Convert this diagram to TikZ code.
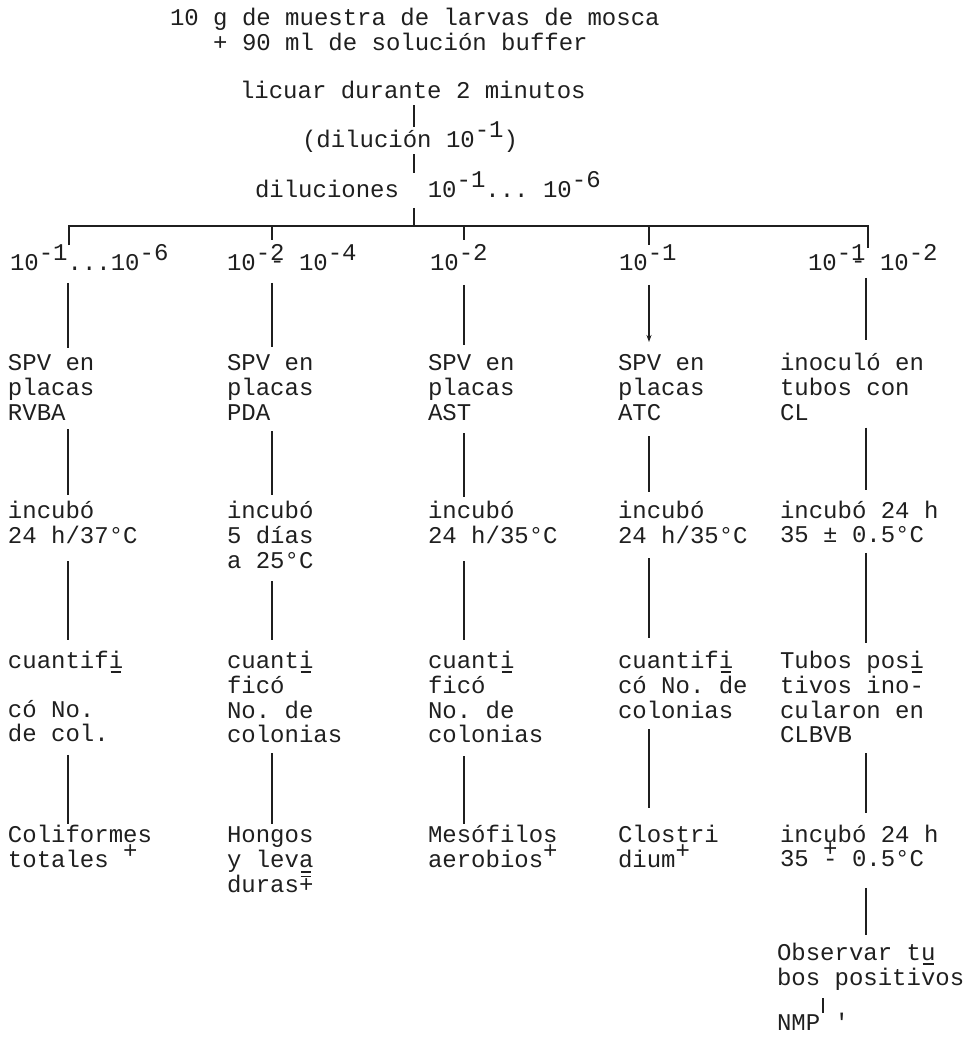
\documentclass[tikz,border=0pt]{standalone}
\usepackage{fontspec}
\setmonofont{Liberation Mono}
\usetikzlibrary{arrows.meta}

% typewriter-style marks
\newcommand\up[1]{\smash{\raisebox{0.4em}{#1}}}
\newcommand\ulc[1]{\makebox[0pt][l]{\hspace{0.08em}\rule[-0.2em]{0.44em}{0.06em}}#1}
\newcommand\subdash[1]{\makebox[0pt][l]{\raisebox{0.05em}{-}}\up{#1}}
\newcommand\barplus{\makebox[0pt][l]{\hspace{0.08em}\smash{\rule[0.62em]{0.44em}{0.06em}}}+}
\newcommand\pmup{\makebox[0pt][l]{\up{+}}-}
% a stack of typed lines whose baseline is that of its first line
\newcommand\lines[2][8em]{\parbox[t]{#1}{\raggedright\strut#2\strut}}

\begin{document}
\begin{tikzpicture}[x=1pt,y=-1pt,line width=1.1pt,color=black!88,
  txt/.style={anchor=base west,inner sep=0pt,outer sep=0pt,
    font=\ttfamily\fontsize{24pt}{24.5pt}\selectfont,
    execute at end node=\strut},
  tip/.style={-{Stealth[length=7pt,width=5pt]}}]

\useasboundingbox (0,0) rectangle (970,1037);

% column axes
\coordinate (x1) at (68,0);
\coordinate (x2) at (272,0);
\coordinate (x3) at (464,0);
\coordinate (x4) at (649,0);
\coordinate (x5) at (866,0);
\coordinate (xm) at (414,0);
\coordinate (xn) at (823,0);
\coordinate (barL) at (69,226);
\coordinate (barR) at (868,226);

% preparation
\node[txt] (sample) at (170,25) {\lines[21em]{10 g de muestra de larvas de mosca\\\hphantom{000}+ 90 ml de solución buffer}};
\node[txt] (blend) at (240,98) {licuar durante 2 minutos};
\node[txt] (dil) at (302,147) {(dilución 10\up{-1})};
\node[txt] (dils) at (255,197) {diluciones\ \ 10\up{-1}...\ 10\up{-6}};

% dilutions taken
\node[txt] (lab1) at (10,270) {10\up{-1}...10\up{-6}};
\node[txt] (lab2) at (227,270) {10\up{-}\subdash{2}\ 10\up{-4}};
\node[txt] (lab3) at (430,270) {10\up{-2}};
\node[txt] (lab4) at (619,270) {10\up{-1}};
\node[txt] (lab5) at (808,270) {10\up{-}\subdash{1}\ 10\up{-2}};

% seeding
\node[txt] (spv1) at (8,370) {\lines{SPV en\\placas\\RVBA}};
\node[txt] (spv2) at (227,370) {\lines{SPV en\\placas\\PDA}};
\node[txt] (spv3) at (428,370) {\lines{SPV en\\placas\\AST}};
\node[txt] (spv4) at (618,370) {\lines{SPV en\\placas\\ATC}};
\node[txt] (ino5) at (780,370) {\lines{inoculó en\\tubos con\\CL}};

% incubation
\node[txt] (inc1) at (8,518) {\lines{incubó\\24 h/37°C}};
\node[txt] (inc2) at (227,518) {\lines{incubó\\5 días\\a 25°C}};
\node[txt] (inc3) at (428,518) {\lines{incubó\\24 h/35°C}};
\node[txt] (inc4) at (618,518) {\lines{incubó\\24 h/35°C}};
\node[txt] (inc5) at (780,518) {\lines{incubó 24 h\\35 ± 0.5°C}};

% counting
\node[txt] (cua1) at (8,668) {\lines{cuantif\ulc{i}\\\mbox{}\\có No.\\de col.}};
\node[txt] (cua2) at (227,668) {\lines{cuant\ulc{i}\\ficó\\No. de\\colonias}};
\node[txt] (cua3) at (428,668) {\lines{cuant\ulc{i}\\ficó\\No. de\\colonias}};
\node[txt] (cua4) at (618,668) {\lines{cuantif\ulc{i}\\có No. de\\colonias}};
\node[txt] (tub5) at (780,668) {\lines{Tubos pos\ulc{i}\\tivos ino-\\cularon en\\CLBVB}};

% results
\node[txt] (res1) at (8,842) {\lines{Coliformes\\totales \up{+}}};
\node[txt] (res2) at (227,842) {\lines{Hongos\\y lev\ulc{a}\\duras\barplus}};
\node[txt] (res3) at (428,842) {\lines{Mesófilos\\aerobios\up{+}}};
\node[txt] (res4) at (618,842) {\lines{Clostri\\dium\up{+}}};
\node[txt] (inc5b) at (780,842) {\lines{incubó 24 h\\35 \pmup{} 0.5°C}};
\node[txt] (obs5) at (777,960) {\lines{Observar t\ulc{u}\\bos positivos}};
\node[txt] (nmp) at (777,1030) {NMP '};

% trunk
\draw[shorten >=20pt] (blend.south -| xm) -- (dil.base -| xm);
\draw[shorten >=24pt] (dil.south -| xm) -- (dils.base -| xm);
\draw[shorten <=3.6pt] (dils.south -| xm) -- (xm |- barL);
\draw[shorten <=25pt,shorten >=22pt] (lab1.base -| barL) -- (barL) -- (barR) -- (lab5.base -| barR);
\draw[shorten >=30pt] (x2 |- barL) -- (lab2.base -| x2);
\draw[shorten >=30pt] (x3 |- barL) -- (lab3.base -| x3);
\draw[shorten >=25pt] (x4 |- barL) -- (lab4.base -| x4);

% column 1
\draw[shorten <=5.6pt,shorten >=22pt] (lab1.south -| x1) -- (spv1.base -| x1);
\draw[shorten <=1.6pt,shorten >=23pt] (spv1.south -| x1) -- (inc1.base -| x1);
\draw[shorten <=10pt,shorten >=28pt] (inc1.south -| x1) -- (cua1.base -| x1);
\draw[shorten <=6pt,shorten >=18pt] (cua1.south -| x1) -- (res1.base -| x1);

% column 2
\draw[shorten <=5.6pt,shorten >=23pt] (lab2.south -| x2) -- (spv2.base -| x2);
\draw[shorten <=3.6pt,shorten >=23pt] (spv2.south -| x2) -- (inc2.base -| x2);
\draw[shorten <=5.6pt,shorten >=28pt] (inc2.south -| x2) -- (cua2.base -| x2);
\draw[shorten <=3pt,shorten >=18pt] (cua2.south -| x2) -- (res2.base -| x2);

% column 3
\draw[shorten <=7.6pt,shorten >=25pt] (lab3.south -| x3) -- (spv3.base -| x3);
\draw[shorten <=5.6pt,shorten >=21pt] (spv3.south -| x3) -- (inc3.base -| x3);
\draw[shorten <=10pt,shorten >=28pt] (inc3.south -| x3) -- (cua3.base -| x3);
\draw[shorten <=6pt,shorten >=18pt] (cua3.south -| x3) -- (res3.base -| x3);

% column 4
\draw[tip,shorten <=7.6pt,shorten >=28pt] (lab4.south -| x4) -- (spv4.base -| x4);
\draw[shorten <=8.6pt,shorten >=26pt] (spv4.south -| x4) -- (inc4.base -| x4);
\draw[shorten <=7pt,shorten >=30pt] (inc4.south -| x4) -- (cua4.base -| x4);
\draw[shorten <=3.6pt,shorten >=34pt] (cua4.south -| x4) -- (res4.base -| x4);

% column 5
\draw[shorten <=0.6pt,shorten >=30pt] (lab5.south -| x5) -- (ino5.base -| x5);
\draw[shorten >=28pt] (ino5.south -| x5) -- (inc5.base -| x5);
\draw[shorten <=3pt,shorten >=25pt] (inc5.south -| x5) -- (tub5.base -| x5);
\draw[shorten <=3pt,shorten >=29pt] (tub5.south -| x5) -- (inc5b.base -| x5);
\draw[shorten <=14pt,shorten >=25pt] (inc5b.south -| x5) -- (obs5.base -| x5);
\draw[shorten <=5pt,shorten >=17pt] (obs5.south -| xn) -- (nmp.base -| xn);

\end{tikzpicture}
\end{document}
